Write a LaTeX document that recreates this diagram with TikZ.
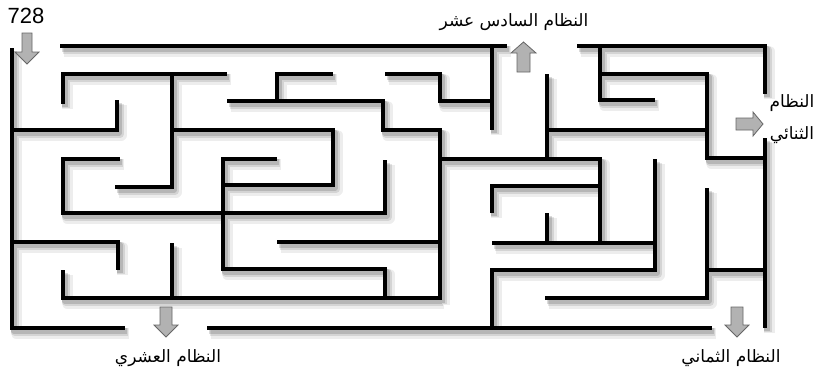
\documentclass[tikz,border=0pt]{standalone}
\usepackage{fontspec}
\newfontfamily\arabicfont[Script=Arabic]{DejaVu Sans}
\newfontfamily\numfont{Liberation Sans}
\TeXXeTstate=1
\begin{document}
\def\mazewalls{%
(60,46) -- (507,46)
(577,46) -- (765,46) -- (765,94)
(765,138) -- (765,328)
(12,48) -- (12,328) -- (125,328)
(207,328) -- (712,328)
(63,104) -- (63,74) -- (227,74)
(12,130) -- (117,130) -- (117,100)
(172,74) -- (172,187) -- (115,187)
(172,130) -- (333,130) -- (333,185) -- (223,185)
(120,159) -- (63,159) -- (63,213) -- (385,213) -- (385,160)
(277,159) -- (223,159) -- (223,269) -- (385,269) -- (385,298)
(227,101) -- (383,101) -- (383,130) -- (440,130) -- (440,300)
(277,101) -- (277,74) -- (333,74)
(385,74) -- (440,74) -- (440,101) -- (492,101)
(492,46) -- (492,130)
(277,242) -- (440,242)
(63,270) -- (63,298) -- (440,298)
(172,243) -- (172,298)
(12,242) -- (118,242) -- (118,270)
(440,159) -- (600,159) -- (600,243)
(547,74) -- (547,159)
(547,130) -- (707,130)
(492,213) -- (492,186) -- (600,186)
(492,243) -- (655,243)
(547,213) -- (547,243)
(655,159) -- (655,270) -- (492,270) -- (492,328)
(545,298) -- (707,298) -- (707,188)
(707,270) -- (765,270)
(600,46) -- (600,100) -- (655,100)
(600,74) -- (707,74) -- (707,158) -- (765,158)
}
\begin{tikzpicture}[x=1pt,y=-1pt,
  wall/.style={line width=4.5pt, line join=miter, line cap=butt, draw=black},
  shadowA/.style={line width=11pt, line join=round, draw=black, opacity=0.07},
  shadowB/.style={line width=8pt, line join=round, draw=black, opacity=0.10},
  shadowC/.style={line width=5.5pt, line join=round, draw=black, opacity=0.14},
  arrowbox/.style={fill=black!30, draw=black!60, line width=0.8pt, line join=miter},
  artext/.style={font=\arabicfont\fontsize{17}{21}\selectfont, inner sep=0pt},
  numtext/.style={font=\numfont\fontsize{22}{26}\selectfont, inner sep=0pt}]
\useasboundingbox (0,0) rectangle (820,375);
\fill[white] (0,0) rectangle (820,375);
% shadows
\draw[shadowA, shift={(4,5)}] \mazewalls;
\draw[shadowB, shift={(3,4)}] \mazewalls;
\draw[shadowC, shift={(2,3)}] \mazewalls;
% walls
\draw[wall] \mazewalls;
% arrows
\draw[arrowbox] (22,33) -- (32,33) -- (32,52) -- (39,52) -- (27,64) -- (15,52) -- (22,52) -- cycle;
\draw[arrowbox] (517,72) -- (530,72) -- (530,53) -- (536,53) -- (523.5,42) -- (511,53) -- (517,53) -- cycle;
\draw[arrowbox] (736,118) -- (753,118) -- (753,112) -- (763,124) -- (753,136) -- (753,130) -- (736,130) -- cycle;
\draw[arrowbox] (160,307) -- (172,307) -- (172,325) -- (178,325) -- (166,337) -- (154,325) -- (160,325) -- cycle;
\draw[arrowbox] (731,307) -- (743,307) -- (743,325) -- (749,325) -- (737,337) -- (725,325) -- (731,325) -- cycle;
% texts
\node[numtext] (n728) at (26,16) {728};
\node[artext] (t16) at (514,22) {\beginR النظام السادس عشر\endR};
\node[artext] (t2a) at (792,103) {\beginR النظام\endR};
\node[artext] (t2b) at (792,135) {\beginR الثنائي\endR};
\node[artext] (t10) at (168,358) {\beginR النظام العشري\endR};
\node[artext] (t8) at (731,358) {\beginR النظام الثماني\endR};
\end{tikzpicture}
\end{document}
